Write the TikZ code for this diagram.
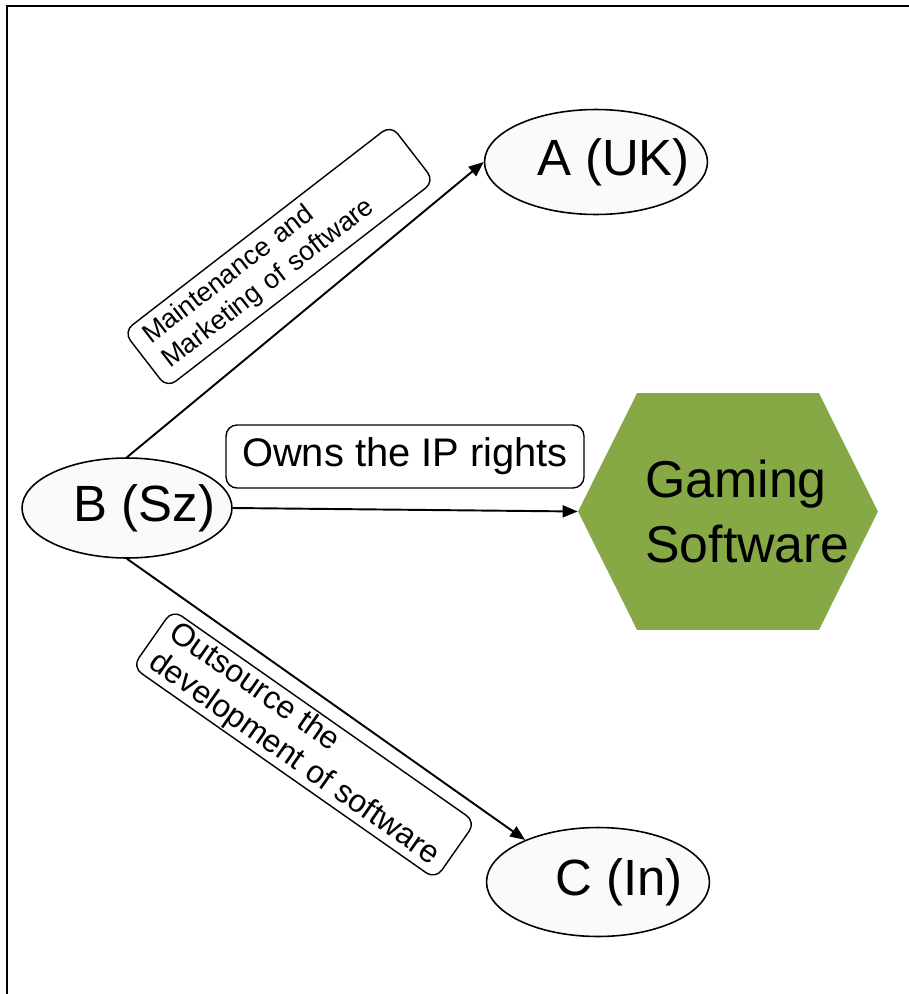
\documentclass[tikz,border=0pt]{standalone}
\usepackage{fontspec}
\setmainfont{Liberation Sans}
\usetikzlibrary{arrows.meta,shapes.geometric,shapes.symbols}

\definecolor{ovalfill}{RGB}{251,250,248}
\definecolor{gamegreen}{RGB}{134,168,69}

\begin{document}
\begin{tikzpicture}[
  x=0.02cm,
  y=-0.02cm,
  oval/.style={
    ellipse,
    draw=black,
    fill=ovalfill,
    line width=0.9pt,
    minimum width=4.46cm,
    minimum height=2.1cm,
    inner sep=0pt
  },
  ovaltext/.style={
    font=\fontsize{29}{35}\selectfont,
    xshift=0.35cm
  },
  hexa/.style={
    signal,
    signal to=east and west,
    signal pointer angle=127,
    fill=gamegreen,
    minimum width=6cm,
    minimum height=4.74cm,
    inner sep=0pt
  },
  hexatext/.style={
    font=\fontsize{29.5}{36.9}\selectfont,
    align=left,
    xshift=0.39cm
  },
  note/.style={
    draw=black,
    line width=0.8pt,
    rounded corners=0.22cm,
    align=left,
    inner ysep=0pt
  },
  link/.style={-{Triangle[length=0.3cm,width=0.24cm]}, line width=1.1pt},
  frame/.style={line width=1.4pt}
]

\useasboundingbox (0,0) rectangle (909,994);
\draw[frame] (7,994) -- (7,6) -- (909,6);

\node[oval, label={[ovaltext]center:A (UK)}] (A) at (596,162) {};
\node[oval, minimum width=4.2cm, minimum height=2cm, label={[ovaltext]center:B (Sz)}] (B) at (127,508) {};
\node[oval, minimum height=2.18cm, label={[ovaltext, xshift=0.07cm]center:C (In)}] (C) at (598,882) {};
\node[hexa, label={[hexatext]center:Gaming\\Software}] (game) at (728,511.5) {};

\draw[link] (B.north) -- (A.west);
\draw[link] (B.east) -- (game.west);
\draw[link] (B.south) -- (C.150);

\node[note, rotate=37.7, font=\fontsize{15.3}{17.6}\selectfont, text width=6.2cm, inner xsep=0.28cm, minimum height=1.42cm] (maint) at (279,256.5) {Maintenance and\\Marketing of software};
\node[note, font=\fontsize{22.7}{26}\selectfont, minimum width=7.16cm, minimum height=1.26cm] (owns) at (405,456.5) {Owns the IP rights};
\node[note, rotate=-35, font=\fontsize{18.1}{20.5}\selectfont, minimum width=7.4cm, minimum height=1.4cm, inner xsep=0.2cm] (outsrc) at (304,744.5) {Outsource the\\development of software};

\end{tikzpicture}
\end{document}
